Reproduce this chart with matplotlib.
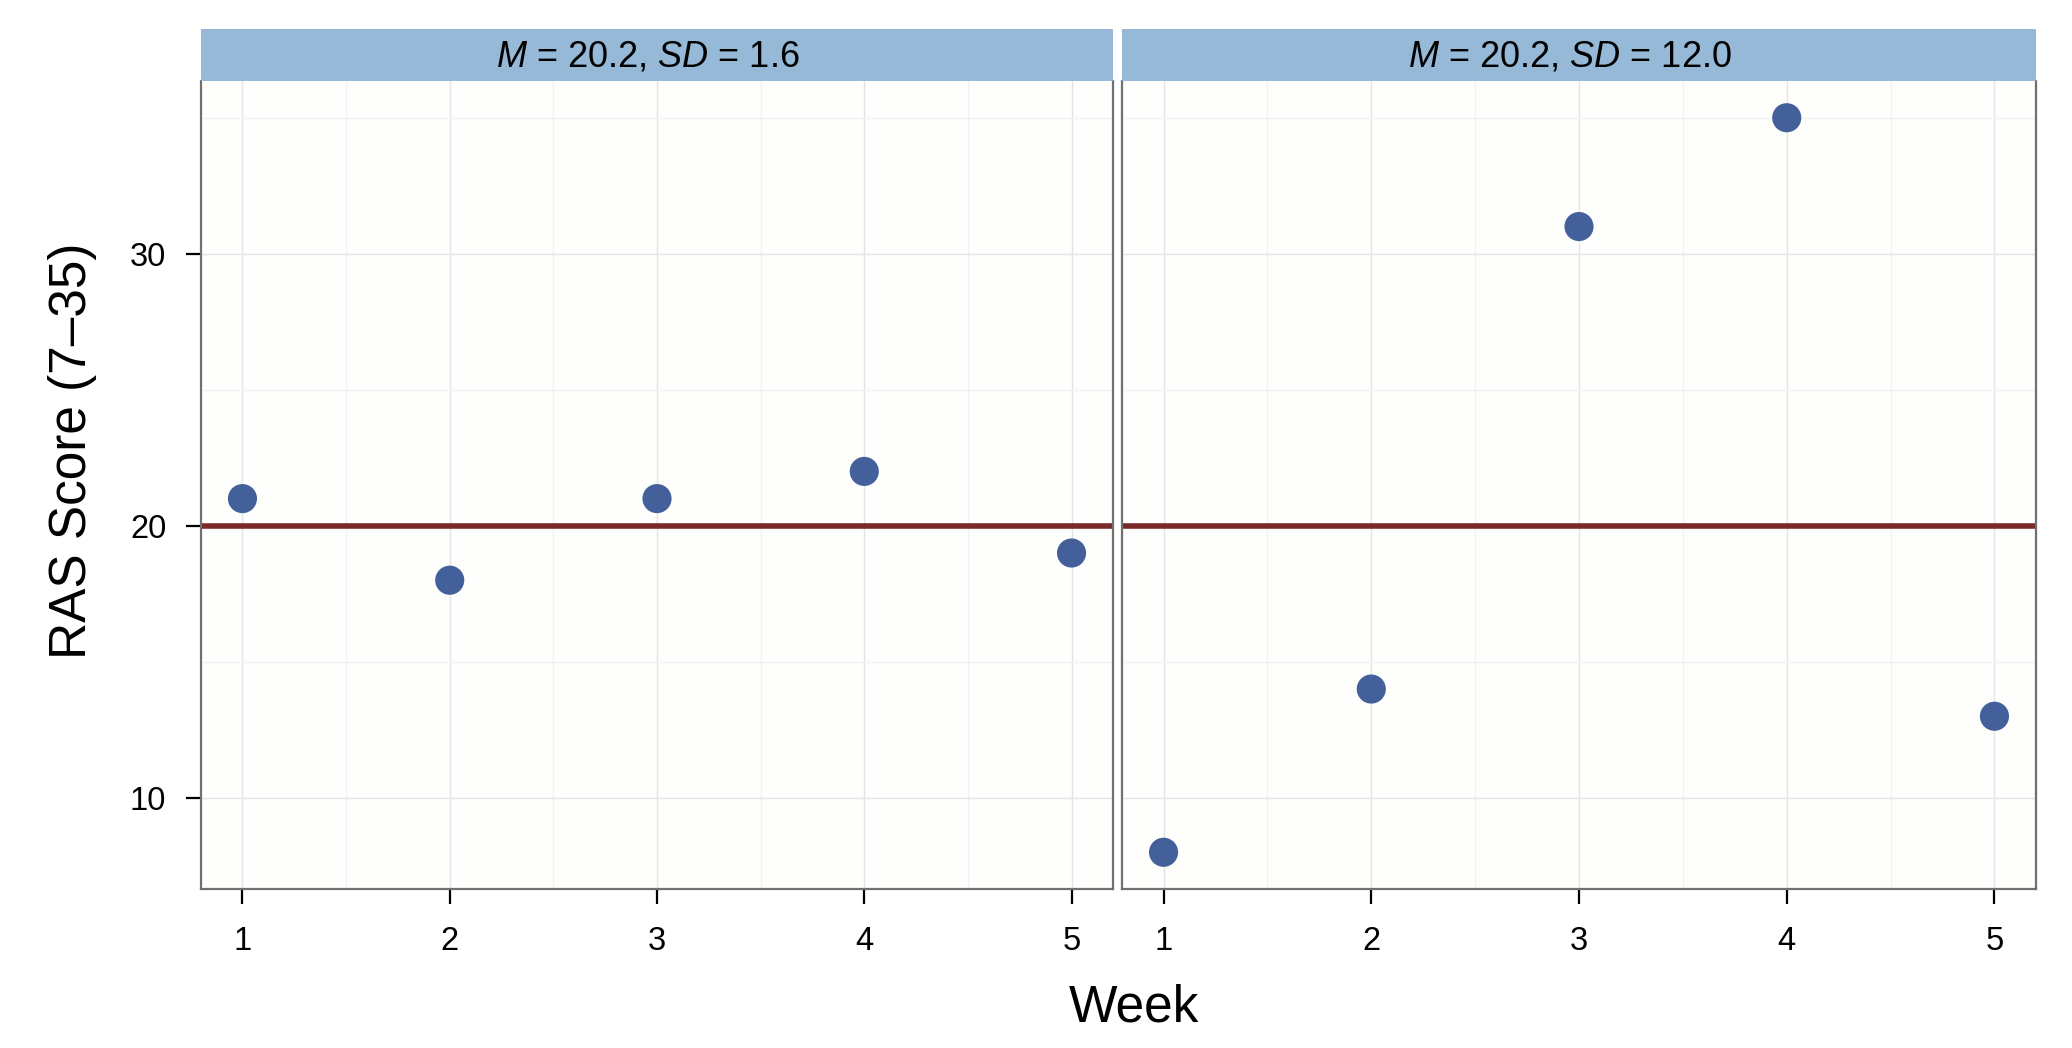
import matplotlib
matplotlib.use("Agg")
import matplotlib.pyplot as plt
from matplotlib.ticker import MultipleLocator

plt.rcParams['font.family'] = ['Liberation Sans', 'DejaVu Sans']
plt.rcParams['mathtext.fontset'] = 'custom'
plt.rcParams['mathtext.rm'] = 'Liberation Sans'
plt.rcParams['mathtext.it'] = 'Liberation Sans:italic'

weeks = [1, 2, 3, 4, 5]
scores_left = [21, 18, 21, 22, 19]
scores_right = [8, 14, 31, 35, 13]
strip_labels = [r"$\it{M}$ = 20.2, $\it{SD}$ = 1.6", r"$\it{M}$ = 20.2, $\it{SD}$ = 12.0"]
ref_line = 20
y_ticks = [10, 20, 30]
x_ticks = [1, 2, 3, 4, 5]

W, H = 2072, 1048
fig = plt.figure(figsize=(W / 100, H / 100), dpi=100)
fig.patch.set_facecolor('white')

panels = [(201, 1113), (1122, 2036)]
top_px, bot_px, strip_top_px = 81, 889, 29

point_color = '#44609A'
line_color = '#7A2828'
strip_color = '#95B9D7'
border_color = '#707070'

for i, ((x0, x1), scores, lab) in enumerate(zip(panels, [scores_left, scores_right], strip_labels)):
    ax = fig.add_axes([x0 / W, 1 - bot_px / H, (x1 - x0) / W, (bot_px - top_px) / H])
    ax.set_facecolor('#FEFEFC')
    ax.set_xlim(0.8, 5.2)
    ax.set_ylim(6.65, 36.35)
    ax.xaxis.set_major_locator(MultipleLocator(1))
    ax.xaxis.set_minor_locator(MultipleLocator(0.5))
    ax.yaxis.set_major_locator(MultipleLocator(10))
    ax.yaxis.set_minor_locator(MultipleLocator(5))
    ax.set_xticks(x_ticks)
    ax.set_yticks(y_ticks)
    ax.grid(which='major', color='#E4E4E4', linewidth=1.0, zorder=0)
    ax.grid(which='minor', color='#F2F2F2', linewidth=1.0, zorder=0)
    ax.set_axisbelow(True)
    ax.axhline(ref_line, color=line_color, linewidth=4.0, zorder=2)
    ax.scatter(weeks, scores, s=440, color=point_color, edgecolors='none', zorder=3)
    for side in ['left', 'right', 'bottom']:
        ax.spines[side].set_color(border_color)
        ax.spines[side].set_linewidth(1.6)
    ax.spines['top'].set_visible(False)
    ax.tick_params(which='minor', length=0)
    ax.tick_params(which='major', length=11, width=1.6, color='black', labelsize=23.5)
    ax.tick_params(axis='x', pad=16)
    ax.tick_params(axis='y', pad=14)
    if i != 0:
        ax.tick_params(axis='y', which='both', left=False, labelleft=False)
    # strip
    sax = fig.add_axes([x0 / W, 1 - top_px / H, (x1 - x0) / W, (top_px - strip_top_px) / H])
    sax.set_facecolor(strip_color)
    sax.set_xticks([])
    sax.set_yticks([])
    for sp in sax.spines.values():
        sp.set_visible(False)
    sax.text(0.49, 0.47, lab, ha='center', va='center', fontsize=26, transform=sax.transAxes)

fig.text(73 / W, 1 - 451 / H, 'RAS Score (7\u201335)', ha='center', va='center',
         rotation=90, fontsize=37)
fig.text(1134 / W, 1 - 1008 / H, 'Week', ha='center', va='center', fontsize=37)

fig.savefig('out.png', dpi=100)
